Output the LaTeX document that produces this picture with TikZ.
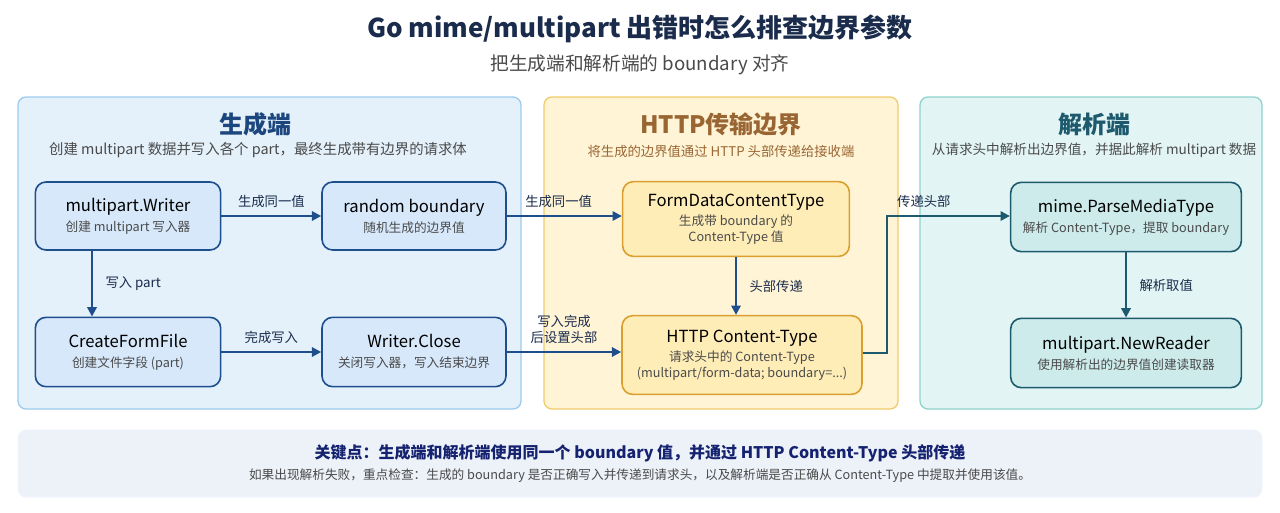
\documentclass[tikz,border=0pt]{standalone}
\usepackage{fontspec}
\setmainfont{Noto Sans CJK SC}
\usetikzlibrary{arrows.meta}
\definecolor{navy}{HTML}{1A2B4C}
\definecolor{blueln}{HTML}{1F4E8C}
\definecolor{bluefill}{HTML}{D6E8FA}
\definecolor{goldln}{HTML}{D9A030}
\definecolor{goldfill}{HTML}{FFEDB8}
\definecolor{tealln}{HTML}{1E5A6E}
\definecolor{tealfill}{HTML}{CDEBEB}
\definecolor{subgray}{HTML}{4A4A4A}
\definecolor{lpanel}{HTML}{E4F1FB}
\definecolor{lpanelln}{HTML}{9DCBEF}
\definecolor{mpanel}{HTML}{FFF4D6}
\definecolor{mpanelln}{HTML}{F2CC6B}
\definecolor{rpanel}{HTML}{E2F5F4}
\definecolor{rpanelln}{HTML}{8FD3CE}
\definecolor{bpanel}{HTML}{EDF2F9}
\newcommand{\bxttl}{\fontsize{12.5}{15}\selectfont\color{black}}
\newcommand{\bxsub}{\fontsize{9.5}{12}\selectfont\color{subgray}}
\tikzset{every picture/.style={line width=0.75pt}}
\tikzset{
  panel/.style={draw, rounded corners=6pt, line width=1pt},
  box/.style={draw, rounded corners=8pt, line width=1.2pt, align=center, inner sep=0pt},
  lab/.style={font=\fontsize{10}{12}\selectfont, text=navy, align=center},
  flow/.style={-{Triangle[length=7pt,width=7pt]}, line width=1.6pt, draw=blueln},
}
\begin{document}
\begin{tikzpicture}[x=0.75pt,y=0.75pt,yscale=-1,xscale=1]
  \useasboundingbox[fill=white] (0,0) rectangle (1280,512);
  % heading
  \node[font=\fontsize{19.5}{22}\selectfont\bfseries, text=navy] (head) at (640,29) {Go mime/multipart 出错时怎么排查边界参数};
  \node[font=\fontsize{14}{16}\selectfont, text=subgray] (subhead) at (640,65) {把生成端和解析端的 boundary 对齐};
  % panels
  \draw[panel, draw=lpanelln, fill=lpanel] (18,97) rectangle (521,409);
  \draw[panel, draw=mpanelln, fill=mpanel] (544,97) rectangle (898,409);
  \draw[panel, draw=rpanelln, fill=rpanel] (920,97) rectangle (1262,409);
  \draw[panel, draw=bpanel!80!blue!20, fill=bpanel, line width=0.5pt] (18,430) rectangle (1262,497);
  % panel titles
  \node[font=\fontsize{18}{20}\selectfont\bfseries, text=blueln!90!black] (gen) at (255,124) {生成端};
  \node[font=\fontsize{10.8}{12}\selectfont, text=subgray] (gensub) at (258,150) {创建 multipart 数据并写入各个 part，最终生成带有边界的请求体};
  \node[font=\fontsize{18}{20}\selectfont\bfseries, text=brown!80!black] (http) at (721,124) {HTTP传输边界};
  \node[font=\fontsize{10}{12}\selectfont, text=brown!80!black] (httpsub) at (721,151) {将生成的边界值通过 HTTP 头部传递给接收端};
  \node[font=\fontsize{18}{20}\selectfont\bfseries, text=tealln] (par) at (1094,124) {解析端};
  \node[font=\fontsize{10.2}{12}\selectfont, text=subgray] (parsub) at (1094,150) {从请求头中解析出边界值，并据此解析 multipart 数据};
  % generator boxes
  \node[box, draw=blueln, fill=bluefill, minimum width=139pt, minimum height=51pt] (mw) at (128,216)
    {\bxttl multipart.Writer\\[3pt]\bxsub 创建 multipart 写入器};
  \node[box, draw=blueln, fill=bluefill, minimum width=138pt, minimum height=51pt] (rb) at (414,216)
    {\bxttl random boundary\\[3pt]\bxsub 随机生成的边界值};
  \node[box, draw=blueln, fill=bluefill, minimum width=139pt, minimum height=52pt] (cff) at (128,352)
    {\bxttl CreateFormFile\\[3pt]\bxsub 创建文件字段 (part)};
  \node[box, draw=blueln, fill=bluefill, minimum width=138pt, minimum height=52pt] (wc) at (414,352)
    {\bxttl Writer.Close\\[3pt]\bxsub 关闭写入器，写入结束边界};
  % transport boxes
  \node[box, draw=goldln, fill=goldfill, minimum width=170pt, minimum height=56pt] (fd) at (736,219)
    {\bxttl FormDataContentType\\[2pt]\bxsub 生成带 boundary 的\\\bxsub Content-Type 值};
  \node[box, draw=goldln, fill=goldfill, minimum width=180pt, minimum height=59pt] (hct) at (742,355)
    {\bxttl HTTP Content-Type\\[2pt]\bxsub 请求头中的 Content-Type\\\bxsub (multipart/form-data; boundary=...)};
  % parser boxes
  \node[box, draw=tealln, fill=tealfill, minimum width=173pt, minimum height=52pt] (mp) at (1126,217)
    {\bxttl mime.ParseMediaType\\[3pt]\bxsub 解析 Content-Type，提取 boundary};
  \node[box, draw=tealln, fill=tealfill, minimum width=173pt, minimum height=52pt] (nr) at (1126,353)
    {\bxttl multipart.NewReader\\[3pt]\bxsub 使用解析出的边界值创建读取器};
  % connectors
  \draw[flow] (mw) -- node[lab, above=2pt] {生成同一值} (rb);
  \draw[flow] (rb) -- node[lab, above=2pt, pos=0.45] {生成同一值} (rb -| fd.west);
  \draw[flow] (mw.south -| 92,0) -- node[lab, right=6pt] {写入 part} (cff.north -| 92,0);
  \draw[flow] (cff) -- node[lab, above=2pt] {完成写入} (wc);
  \draw[flow] (wc) -- node[lab, above=2pt, pos=0.5] {写入完成\\后设置头部} (wc -| hct.west);
  \draw[flow] (fd.south) -- node[lab, right=6pt] {头部传递} (fd.south |- hct.north);
  \coordinate (bend1) at (887,353);
  \coordinate (bend2) at (887,216);
  \draw[flow, draw=tealln] (hct.east |- bend1) -- (bend1) -- (bend2) -- node[lab, above=2pt, pos=0.3] {传递头部} (bend2 -| mp.west);
  \draw[flow, draw=tealln] (mp) -- node[lab, right=6pt] {解析取值} (nr);
  % key note
  \node[font=\fontsize{12}{14}\selectfont\bfseries, text=navy!80!blue] (key) at (640,453) {关键点：生成端和解析端使用同一个 boundary 值，并通过 HTTP Content-Type 头部传递};
  \node[font=\fontsize{9.5}{12}\selectfont, text=subgray] (hint) at (640,476) {如果出现解析失败，重点检查：生成的 boundary 是否正确写入并传递到请求头，以及解析端是否正确从 Content-Type 中提取并使用该值。};
\end{tikzpicture}
\end{document}
